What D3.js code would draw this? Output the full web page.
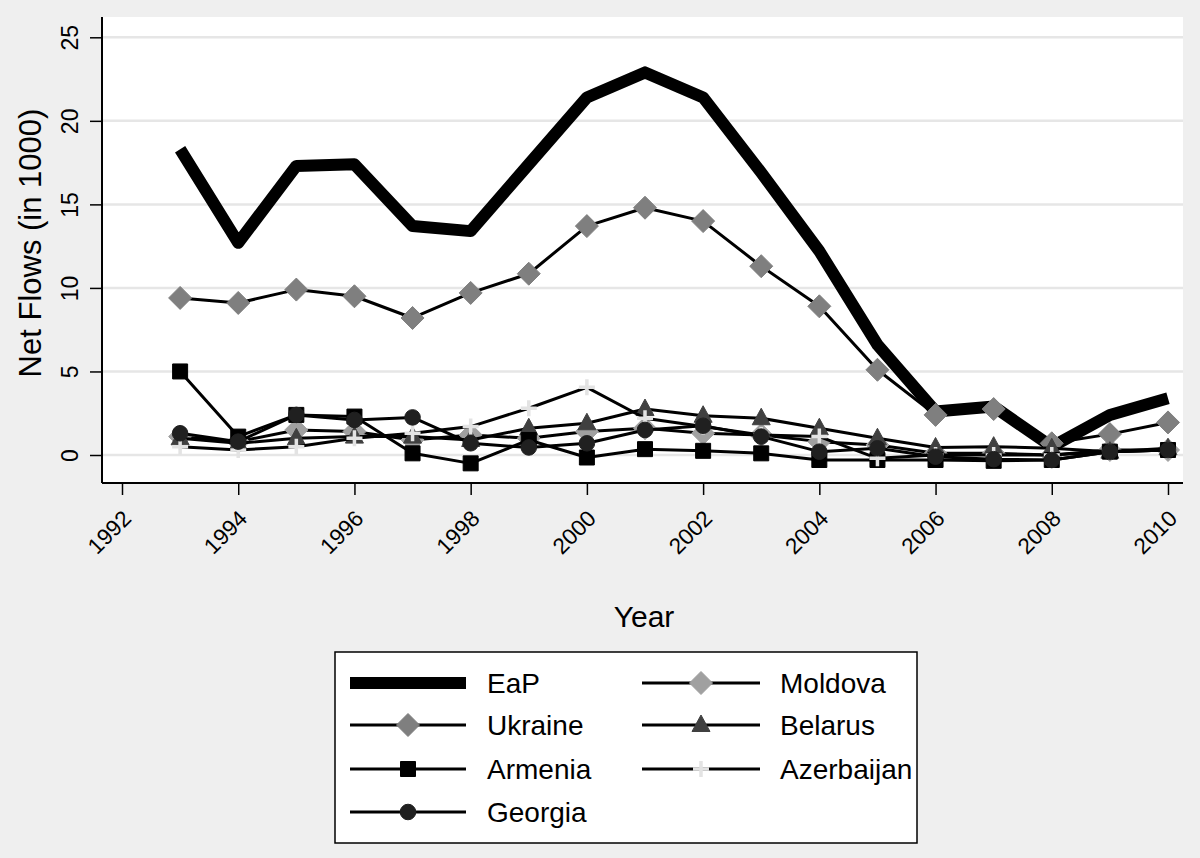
<!DOCTYPE html>
<html><head><meta charset="utf-8">
<script src="https://cdn.jsdelivr.net/npm/d3@7/dist/d3.min.js"></script>
<style>
body{margin:0;background:#efefef;}
svg{display:block;font-family:"Liberation Sans",Arial,Helvetica,sans-serif;}
</style>
</head><body>
<svg id="chart" width="1200" height="858"></svg>
<script>
const years      = [1993,1994,1995,1996,1997,1998,1999,2000,2001,2002,2003,2004,2005,2006,2007,2008,2009,2010];
const eap        = [18.3,12.7,17.3,17.4,13.7,13.4,17.4,21.4,22.9,21.4,16.9,12.2,6.6,2.6,2.9,0.5,2.4,3.4];
const moldova    = [1.1,0.8,1.5,1.4,0.9,1.2,1.0,1.4,1.6,1.3,1.2,0.8,0.6,0.1,0.1,0.0,0.3,0.3];
const ukraine    = [9.4,9.1,9.9,9.5,8.2,9.7,10.85,13.7,14.8,14.0,11.3,8.9,5.1,2.4,2.75,0.7,1.25,1.95];
const belarus    = [1.0,0.7,1.0,1.1,1.1,0.9,1.6,1.9,2.75,2.35,2.2,1.6,1.0,0.45,0.5,0.4,0.2,0.4];
const armenia    = [5.0,1.1,2.4,2.3,0.1,-0.5,0.9,-0.15,0.35,0.25,0.1,-0.3,-0.3,-0.3,-0.35,-0.3,0.2,0.3];
const azerbaijan = [0.5,0.3,0.5,1.0,1.3,1.7,2.8,4.05,2.2,1.7,1.2,1.1,-0.2,0.0,0.0,0.0,0.2,0.3];
const georgia    = [1.3,0.8,2.4,2.1,2.25,0.7,0.45,0.7,1.5,1.75,1.1,0.2,0.4,-0.1,-0.25,-0.3,0.2,0.3];
const xTicks = [1992,1994,1996,1998,2000,2002,2004,2006,2008,2010];
const yTicks = [0,5,10,15,20,25];

const series = [
  {name:"EaP",        values:eap,        marker:null,       fill:"#000",    width:12},
  {name:"Moldova",    values:moldova,    marker:"diamond",  fill:"#a0a0a0", width:3},
  {name:"Ukraine",    values:ukraine,    marker:"diamond",  fill:"#7f7f7f", width:3},
  {name:"Belarus",    values:belarus,    marker:"triangle", fill:"#404040", width:3},
  {name:"Armenia",    values:armenia,    marker:"square",   fill:"#000",    width:3},
  {name:"Azerbaijan", values:azerbaijan, marker:"plus",     fill:"#e3e3e3", width:3},
  {name:"Georgia",    values:georgia,    marker:"circle",   fill:"#202020", width:3}
];

const svg = d3.select("#chart");
const plot = {left:102, right:1183, top:17, bottom:483};
const x = d3.scaleLinear().domain([1992,2010]).range([122,1168]);
const y = d3.scaleLinear().domain([0,25]).range([455,37.3]);

svg.append("rect").attr("x",plot.left).attr("y",plot.top)
  .attr("width",plot.right-plot.left).attr("height",plot.bottom-plot.top).attr("fill","#fff");

svg.append("g").selectAll("line").data(yTicks).join("line")
  .attr("x1",plot.left).attr("x2",plot.right)
  .attr("y1",d=>y(d)).attr("y2",d=>y(d))
  .attr("stroke","#e6e6e6").attr("stroke-width",2.5);

function markerPath(type){
  switch(type){
    case "diamond": return "M0,-11.5L11.5,0L0,11.5L-11.5,0Z";
    case "square": return "M-7.5,-7.5H7.5V7.5H-7.5Z";
    case "triangle": return "M0,-10L9,6.5H-9Z";
    case "circle": return d3.symbol(d3.symbolCircle, 190)();
    case "plus": return "M-8,0H8M0,-8V8";
  }
}

const line = d3.line().x((d,i)=>x(years[i])).y(d=>y(d));

series.forEach(s=>{
  const g = svg.append("g");
  g.append("path").datum(s.values).attr("d",line)
    .attr("fill","none").attr("stroke","#000").attr("stroke-width",s.width)
    .attr("stroke-linejoin","round");
  if(s.marker){
    const m = g.selectAll("path.m").data(s.values).join("path").attr("class","m")
      .attr("transform",(d,i)=>`translate(${x(years[i])},${y(d)})`)
      .attr("d",markerPath(s.marker));
    if(s.marker==="plus") m.attr("fill","none").attr("stroke",s.fill).attr("stroke-width",3.5);
    else m.attr("fill",s.fill).attr("stroke",s.fill).attr("stroke-width",1);
  }
});

const xAxis = d3.axisBottom(x).tickValues(xTicks).tickSize(12).tickFormat(d3.format("d"));
const gx = svg.append("g").attr("transform",`translate(0,${plot.bottom})`).call(xAxis);
gx.select(".domain").remove();
gx.selectAll(".tick line").attr("stroke","#000").attr("stroke-width",1.5);
gx.selectAll(".tick text").attr("font-size",22.5).attr("fill","#000")
  .attr("text-anchor","end").attr("dy",null).attr("y",null)
  .attr("transform","translate(10,37) rotate(-45)");
svg.append("line").attr("x1",plot.left).attr("x2",plot.right)
  .attr("y1",plot.bottom).attr("y2",plot.bottom).attr("stroke","#000").attr("stroke-width",2);

const yAxis = d3.axisLeft(y).tickValues(yTicks).tickSize(12);
const gy = svg.append("g").attr("transform",`translate(${plot.left},0)`).call(yAxis);
gy.select(".domain").remove();
gy.selectAll(".tick line").attr("stroke","#000").attr("stroke-width",1.5);
gy.selectAll(".tick text").attr("font-size",23).attr("fill","#000")
  .attr("text-anchor","middle").attr("x",null).attr("dy",null)
  .attr("transform","translate(-24,0) rotate(-90)");
svg.append("line").attr("x1",plot.left).attr("x2",plot.left)
  .attr("y1",plot.top).attr("y2",plot.bottom).attr("stroke","#000").attr("stroke-width",2);

svg.append("text").attr("x",644).attr("y",627).attr("text-anchor","middle")
  .attr("font-size",30).text("Year");
svg.append("text").attr("transform","translate(41,243) rotate(-90)").attr("text-anchor","middle")
  .attr("font-size",31).text("Net Flows (in 1000)");

const lg = svg.append("g");
lg.append("rect").attr("x",335).attr("y",652).attr("width",582).attr("height",191)
  .attr("fill","#fff").attr("stroke","#000").attr("stroke-width",1.5);
const legendPos = [[0,0],[1,0],[0,1],[1,1],[0,2],[1,2],[0,3]];
const colX = [[350,466,487],[642,760,780]];
const rowY = [683,725,769,812];
series.forEach((s,i)=>{
  const [c,r] = legendPos[i];
  const [x1,x2,tx] = colX[c];
  const yy = rowY[r];
  lg.append("line").attr("x1",x1).attr("x2",x2).attr("y1",yy).attr("y2",yy)
    .attr("stroke","#000").attr("stroke-width",s.width);
  if(s.marker){
    const m = lg.append("path").attr("transform",`translate(${(x1+x2)/2},${yy})`).attr("d",markerPath(s.marker));
    if(s.marker==="plus") m.attr("fill","none").attr("stroke",s.fill).attr("stroke-width",3.5);
    else m.attr("fill",s.fill).attr("stroke",s.fill).attr("stroke-width",1);
  }
  lg.append("text").attr("x",tx).attr("y",yy+10).attr("font-size",28).text(s.name);
});
</script>
</body></html>
